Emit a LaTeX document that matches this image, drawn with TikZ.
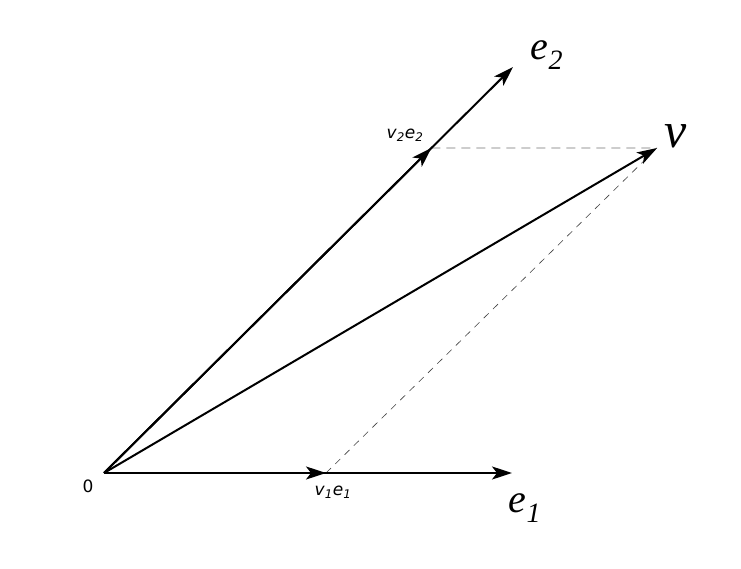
\documentclass[tikz,border=0pt]{standalone}
\usepackage{fontspec}
\setmainfont{Liberation Serif}
\newfontfamily\labelfont{DejaVu Sans}
\usetikzlibrary{arrows.meta,calc}

\tikzset{
  vec/.style={line width=2pt, -{Stealth[length=20pt, width=13pt, inset=5pt]}},
  proj/.style={dash pattern=on 9pt off 6pt, line width=1.2pt, black!30},
  diag/.style={dash pattern=on 7pt off 6pt, line width=0.6pt, black!75},
  biglabel/.style={font=\fontsize{40}{40}\selectfont\itshape},
  smalllabel/.style={font=\fontsize{17}{17}\selectfont\labelfont}
}

\begin{document}
\begin{tikzpicture}[x=1pt, y=1pt]
\useasboundingbox (0,0) rectangle (741,568);

  % points
  \coordinate (O)   at (104, 95);
  \coordinate (E1)  at (512, 95);
  \coordinate (E2)  at (513,501);
  \coordinate (V)   at (657,420);
  \coordinate (VE1) at (326, 95);
  \coordinate (VE2) at ($(O)!0.8005!(E2)$);

  % projections
  \draw[proj] (VE2) -- (V);
  \draw[diag] (VE1) -- (V);

  % vectors
  \draw[vec] (O) -- (E1);
  \draw[vec] (O) -- (E2);
  \draw[vec] (O) -- (VE1);
  \draw[vec] (O) -- (VE2);
  \draw[vec] (O) -- (V);

  % labels
  \node[smalllabel] (zero)  at (88, 82)  {0};
  \node[smalllabel] (lve1)  at (333, 76) {\textit{v}\textsubscript{\textit{1}}\textit{e}\textsubscript{\textit{1}}};
  \node[smalllabel] (lve2)  at (405,433) {\textit{v}\textsubscript{\textit{2}}\textit{e}\textsubscript{\textit{2}}};
  \node[biglabel]   (le1)   at (525, 60) {e\textsubscript{1}};
  \node[biglabel]   (le2)   at (547,513) {e\textsubscript{2}};
  \node[biglabel, font=\fontsize{50}{50}\selectfont\itshape] (lv) at (676,432) {v};

\end{tikzpicture}
\end{document}
